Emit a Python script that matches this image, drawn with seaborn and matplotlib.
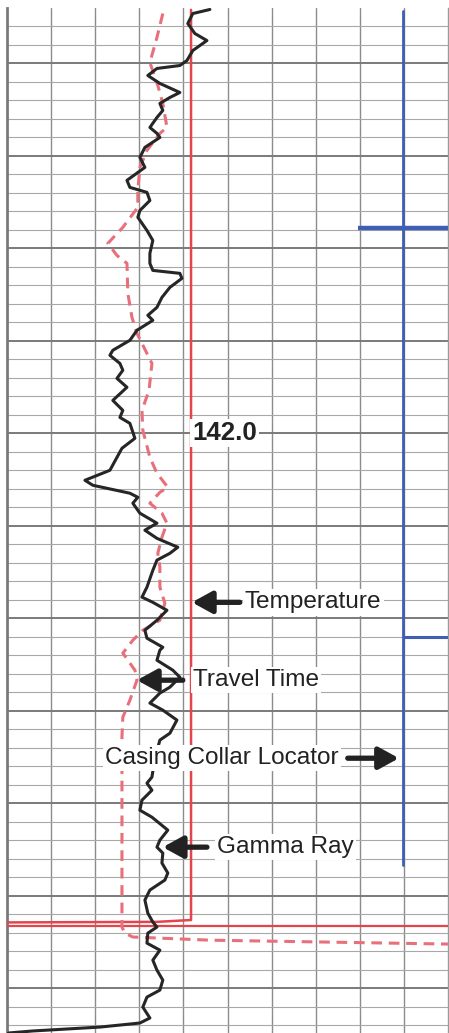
import numpy as np
import pandas as pd
import matplotlib
matplotlib.use('Agg')
import matplotlib.pyplot as plt
import seaborn as sns

sns.set_style('white')
plt.rcParams['font.family'] = ['Liberation Sans', 'DejaVu Sans']

# ---- data (depth, track reading on a 0-150 scale) ----
gr_depth = [119.08, 119.30, 119.84, 120.38, 120.76, 121.30, 121.84, 122.11, 122.27, 122.65,
            123.08, 123.57, 123.84, 124.16, 124.54, 124.92, 125.46, 125.78, 126.00, 126.54,
            127.08, 127.62, 128.32, 128.70, 128.97, 129.41, 129.95, 130.32, 131.03, 131.57,
            132.27, 132.81, 133.19, 133.35, 133.62, 134.11, 134.65, 135.19, 135.62, 135.89,
            136.43, 136.97, 137.51, 137.78, 138.22, 138.59, 139.03, 139.51, 140.22, 140.76,
            141.14, 141.46, 142.27, 142.81, 143.30, 144.00, 144.54, 144.81, 145.24, 145.46,
            145.78, 146.32, 146.86, 147.24, 147.68, 148.16, 148.49, 148.86, 149.41, 150.32,
            150.86, 151.14, 151.57, 152.11, 152.65, 153.08, 153.57, 153.73, 154.27, 154.81,
            155.19, 155.73, 156.05, 156.59, 156.97, 157.51, 158.22, 158.59, 159.57, 160.59,
            160.92, 161.30, 161.84, 162.38, 162.76, 163.46, 164.00, 164.38, 164.70, 165.24,
            165.78, 166.16, 166.70, 167.24, 167.95, 168.43, 168.70, 169.03, 169.57, 169.95,
            170.49, 171.03, 171.57, 172.11, 172.49, 173.03, 173.62, 173.89, 174.11, 174.32,
            174.43]
gr_value = [69.0, 63.2, 61.5, 63.9, 68.0, 63.2, 61.2, 58.8, 51.0, 47.9,
            52.0, 58.8, 55.4, 52.0, 53.0, 51.0, 48.6, 51.0, 52.0, 46.9,
            45.2, 46.9, 40.8, 41.8, 47.6, 48.6, 45.2, 44.5, 47.6, 49.6,
            48.6, 48.6, 49.6, 58.8, 59.5, 55.4, 52.7, 51.0, 47.9, 49.6,
            44.2, 41.8, 36.0, 35.0, 38.4, 39.4, 37.4, 40.8, 36.0, 39.4,
            38.4, 41.8, 43.5, 39.1, 37.4, 35.0, 26.5, 29.2, 41.8, 44.5,
            42.8, 45.2, 51.0, 46.9, 51.0, 58.1, 55.4, 51.0, 49.6, 47.6,
            45.9, 49.6, 54.4, 51.0, 46.9, 47.6, 53.0, 52.0, 51.0, 56.4,
            58.8, 55.4, 52.0, 48.6, 53.0, 57.8, 55.4, 52.0, 50.3, 49.3,
            47.6, 49.3, 45.9, 45.2, 49.3, 54.7, 52.0, 51.0, 53.0, 52.7,
            54.7, 53.7, 48.6, 46.9, 47.9, 49.6, 51.0, 47.9, 47.6, 52.0,
            49.6, 51.0, 53.0, 52.0, 47.6, 46.2, 48.6, 45.2, 31.6, 8.8,
            0.5]

tt_depth = [119.30, 120.59, 121.95, 123.19, 124.16, 125.46, 125.78, 126.70, 127.62, 128.86,
            129.78, 130.86, 131.73, 132.38, 132.81, 134.43, 135.73, 136.59, 137.68, 138.22,
            139.68, 140.76, 141.84, 143.30, 144.16, 144.92, 145.19, 145.78, 146.32, 146.86,
            147.62, 148.49, 149.24, 150.32, 151.19, 152.11, 152.65, 153.19, 153.89, 154.81,
            155.35, 156.43, 157.35, 158.43, 168.70, 169.03, 169.24, 169.30, 169.41, 169.62]
tt_value = [53.0, 51.0, 48.6, 51.3, 53.0, 54.4, 52.0, 47.6, 45.2, 44.5,
            44.5, 39.4, 34.3, 37.4, 40.8, 41.1, 42.5, 44.2, 47.6, 49.3,
            48.3, 45.9, 46.2, 48.6, 51.0, 54.7, 52.0, 48.6, 52.7, 54.4,
            52.7, 51.3, 52.0, 52.0, 53.7, 52.0, 46.2, 42.8, 39.4, 43.5,
            44.2, 41.8, 39.4, 39.1, 39.1, 40.1, 42.8, 52.0, 69.0, 150.0]

temp_depth = [119.10, 168.32, 168.42, 168.45]
temp_value = [62.6, 62.6, 51.0, 0.0]

ccl_depth = [119.14, 165.35]
ccl_value = [134.6, 134.6]
ccl_kick_depth = [130.92, 153.03]
ccl_kick_left = [119.3, 134.6]
ccl_kick_right = [150.0, 150.0]

marker_depth = 168.62   # full-width red depth line

# ---- figure ----
W, H = 449, 1033
fig = plt.figure(figsize=(W / 100, H / 100), dpi=100)
ax = fig.add_axes([7 / W, 0, 441 / W, 1025 / H])

ax.set_xlim(0, 150)
ax.set_ylim(174.43, 119.0)

# chart-paper grid
for xv in np.arange(15, 150, 15):
    ax.axvline(xv, color='#8c8c8c', lw=1.0, zorder=0)
for d in np.arange(120, 175, 1):
    major = (d - 122) % 5 == 0
    ax.axhline(d, color='#7a7a7a' if major else '#a8a8a8',
               lw=1.4 if major else 0.8, zorder=0)

for s in ['top', 'bottom']:
    ax.spines[s].set_visible(False)
ax.spines['left'].set_color('#7a7a7a')
ax.spines['left'].set_linewidth(2.0)
ax.spines['right'].set_color('#9a9a9a')
ax.spines['right'].set_linewidth(1.0)
ax.set_xticks([])
ax.set_yticks([])
ax.set_xlabel('')
ax.set_ylabel('')

# curves
sns.lineplot(x=temp_value, y=temp_depth, sort=False, estimator=None,
             color='#e2454c', lw=1.8, ax=ax, zorder=3)
ax.axhline(marker_depth, color='#e2454c', lw=1.6, zorder=3)

sns.lineplot(x=tt_value, y=tt_depth, sort=False, estimator=None,
             color='#e8707a', lw=2.2, dashes=False, ax=ax, zorder=3,
             linestyle=(0, (3.5, 2.2)))

sns.lineplot(x=ccl_value, y=ccl_depth, sort=False, estimator=None,
             color='#3f5fb5', lw=2.0, ax=ax, zorder=3)
ax.hlines(ccl_kick_depth, ccl_kick_left, ccl_kick_right,
          color='#3f5fb5', lw=[3.2, 2.2], zorder=3)

sns.lineplot(x=gr_value, y=gr_depth, sort=False, estimator=None,
             color='#262626', lw=2.2, ax=ax, zorder=4,
             solid_joinstyle='round', solid_capstyle='round')

# labels
box = dict(facecolor='white', edgecolor='none', pad=1.5)
txt = dict(fontsize=17.6, color='#222222', va='center', zorder=6, bbox=box)
arrow = dict(arrowstyle='-|>,head_length=0.6,head_width=0.33', lw=3.8,
             color='#222222', shrinkA=0, shrinkB=0, mutation_scale=20)

ax.text(74.0, 142.0, '142.0', ha='center', fontweight='bold',
        **{k: (18.6 if k == 'fontsize' else v) for k, v in txt.items()})

ax.annotate('', xy=(62.9, 151.14), xytext=(79.2, 151.14), arrowprops=arrow, zorder=7)
ax.text(80.9, 151.14, 'Temperature', ha='left', **txt)

ax.annotate('', xy=(44.2, 155.35), xytext=(59.8, 155.35), arrowprops=arrow, zorder=7)
ax.text(63.2, 155.35, 'Travel Time', ha='left', **txt)

ax.text(33.3, 159.57, 'Casing Collar Locator', ha='left', **txt)
ax.annotate('', xy=(133.3, 159.57), xytext=(115.9, 159.57), arrowprops=arrow, zorder=7)

ax.annotate('', xy=(53.0, 164.38), xytext=(68.0, 164.38), arrowprops=arrow, zorder=7)
ax.text(71.4, 164.38, 'Gamma Ray', ha='left', **txt)

fig.savefig('out.png', dpi=100)
